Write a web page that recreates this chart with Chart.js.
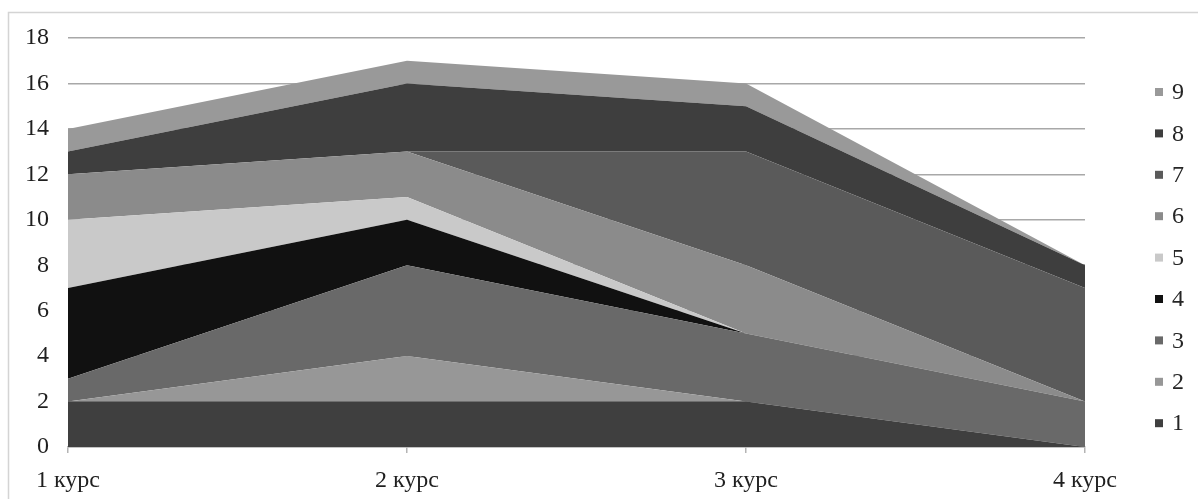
<!DOCTYPE html>
<html>
<head>
<meta charset="utf-8">
<script src="https://cdn.jsdelivr.net/npm/chart.js@4/dist/chart.umd.min.js"></script>
<style>
  html, body { margin: 0; padding: 0; background: #ffffff; }
  #wrap { width: 1198px; height: 499px; position: relative; }
</style>
</head>
<body>
<div id="wrap"><canvas id="c" width="1198" height="499"></canvas></div>
<script>
// Course years on the x axis
const categories = ['1 курс', '2 курс', '3 курс', '4 курс'];

// Stacked series 1..9, one value per course
const series1 = [2, 2, 2, 0];
const series2 = [0, 2, 0, 0];
const series3 = [1, 4, 3, 2];
const series4 = [4, 2, 0, 0];
const series5 = [3, 1, 0, 0];
const series6 = [2, 2, 3, 0];
const series7 = [0, 0, 5, 5];
const series8 = [1, 3, 2, 1];
const series9 = [1, 1, 1, 0];

const seriesNames = ['1', '2', '3', '4', '5', '6', '7', '8', '9'];
const seriesValues = [series1, series2, series3, series4, series5, series6, series7, series8, series9];

// Y axis range
const yMin = 0;
const yMax = 18;
const yStep = 2;

const fills = ['#3f3f3f', '#979797', '#696969', '#111111', '#c9c9c9', '#8b8b8b', '#5a5a5a', '#3e3e3e', '#999999'];

const FONT = '"Liberation Serif", "Times New Roman", serif';
const FONT_SIZE = 24;

const datasets = seriesValues.map((vals, i) => ({
  label: seriesNames[i],
  data: vals,
  backgroundColor: fills[i],
  borderColor: fills[i],
  borderWidth: 0,
  pointRadius: 0,
  pointHoverRadius: 0,
  tension: 0,
  fill: i === 0 ? 'origin' : '-1'
}));

// Outer frame of the chart object (left and top edges)
const framePlugin = {
  id: 'frame',
  beforeDraw(chart) {
    const ctx = chart.ctx;
    ctx.save();
    ctx.strokeStyle = '#d4d4d4';
    ctx.lineWidth = 1.5;
    ctx.beginPath();
    ctx.moveTo(8.5, chart.height);
    ctx.lineTo(8.5, 12.5);
    ctx.lineTo(chart.width, 12.5);
    ctx.stroke();
    ctx.restore();
  }
};

// Legend column on the right, listed from the top series down
const sideLegend = {
  id: 'sideLegend',
  afterDraw(chart) {
    const ctx = chart.ctx;
    const ds = chart.data.datasets;
    const x0 = 1155, top = 92, gap = 41.4, box = 8;
    ctx.save();
    ctx.font = FONT_SIZE + 'px ' + FONT;
    ctx.textBaseline = 'middle';
    ctx.textAlign = 'left';
    for (let k = 0; k < ds.length; k++) {
      const d = ds[ds.length - 1 - k];
      const y = top + k * gap;
      ctx.fillStyle = d.backgroundColor;
      ctx.fillRect(x0, y - box / 2, box, box);
      ctx.fillStyle = '#262626';
      ctx.fillText(d.label, x0 + 17, y + 1);
    }
    ctx.restore();
  }
};

new Chart(document.getElementById('c'), {
  type: 'line',
  data: { labels: categories, datasets },
  options: {
    responsive: false,
    animation: false,
    devicePixelRatio: 1,
    layout: { padding: { left: 6, right: 113, top: 38, bottom: 2 } },
    plugins: {
      legend: { display: false },
      tooltip: { enabled: false },
      filler: { propagate: false }
    },
    elements: { line: { borderWidth: 0 } },
    scales: {
      x: {
        offset: false,
        afterFit(scale) { scale.height = 50; },
        grid: {
          display: true,
          drawOnChartArea: false,
          drawTicks: true,
          tickLength: 6,
          color: '#b4b4b4',
          lineWidth: 1.5
        },
        border: { display: true, color: '#b4b4b4', width: 1.5 },
        ticks: {
          padding: 13,
          color: '#1f1f1f',
          font: { family: FONT, size: FONT_SIZE },
          maxRotation: 0,
          autoSkip: false
        }
      },
      y: {
        stacked: true,
        min: yMin,
        max: yMax,
        grid: {
          color: '#a8a8a8',
          lineWidth: 1.5,
          drawTicks: false
        },
        border: { display: false },
        ticks: {
          stepSize: yStep,
          padding: 19,
          color: '#1f1f1f',
          font: { family: FONT, size: FONT_SIZE }
        }
      }
    }
  },
  plugins: [framePlugin, sideLegend]
});
</script>
</body>
</html>
